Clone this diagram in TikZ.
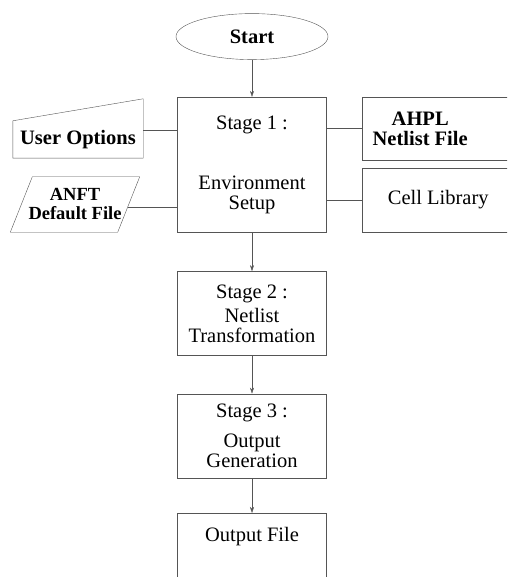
\documentclass[tikz,border=0pt]{standalone}
\usepackage{fontspec}
\setmainfont{Liberation Serif}
\usepackage{tikz}
\usetikzlibrary{positioning, arrows.meta, shapes.geometric, calc}
\definecolor{scanline}{HTML}{555555}

\begin{document}
\begin{tikzpicture}[
  x=1pt, y=-1pt,
  node distance=38pt,
  every node/.style={font=\fontsize{20.5}{20}\selectfont},
  startnode/.style={
    ellipse, draw=scanline, thin,
    minimum width=152pt, minimum height=46pt,
    font=\fontsize{20.5}{20}\selectfont\bfseries
  },
  stagebox/.style={
    rectangle, draw=scanline, thin,
    minimum width=149pt, minimum height=84pt,
    align=center
  },
  filebox/.style={
    rectangle, draw=scanline, thin, anchor=west,
    minimum width=170pt
  },
  inputbox/.style={
    rectangle, minimum width=130pt, minimum height=37pt,
    font=\fontsize{20.5}{20}\selectfont\bfseries
  },
  defaultbox/.style={
    rectangle, inner xsep=0pt,
    minimum width=129pt, minimum height=55pt,
    align=center, font=\fontsize{18.5}{19}\selectfont\bfseries
  },
  link/.style={thin, color=scanline},
  arr/.style={-{Stealth[length=6pt, width=4pt]}, thin, color=scanline},
]
\path[use as bounding box, clip] (0,0) rectangle (507,577);

% Main flow
\node[stagebox, minimum height=135pt] (stage1) at (252,164.5)
  {Stage 1 :\\[40pt]Environment\\Setup};
\node[startnode, above=37pt of stage1] (start) {Start};
\node[stagebox, below=39pt of stage1] (stage2)
  {Stage 2 :\\[4pt]Netlist\\Transformation};
\node[stagebox, below=38pt of stage2] (stage3)
  {Stage 3 :\\[10pt]Output\\Generation};
\node[stagebox, below=35pt of stage3, minimum height=80pt,
  label={[yshift=17pt]center:Output File}] (outfile) {};

% Inputs on the left
\node[inputbox] (useropt) at (78,139.5) {User Options};
\draw[link] (useropt.north west) -- (useropt.south west)
  -- (useropt.south east) -- ([yshift=22pt]useropt.north east) -- cycle;
\node[defaultbox] (anft) at (75,204.5) {ANFT\\Default File};
\draw[link] ([xshift=22pt]anft.north west) -- (anft.north east)
  -- ([xshift=-22pt]anft.south east) -- (anft.south west) -- cycle;

% Files on the right
\node[filebox, minimum height=63pt,
  label={[xshift=-27pt, align=center, font=\fontsize{20.5}{20}\selectfont\bfseries]center:AHPL\\Netlist File}]
  (ahpl) at (362,128.5) {};
\node[filebox, minimum height=64pt,
  label={[xshift=-9pt]center:Cell Library}] (cell) at (362,200) {};

% Connectors
\draw[arr] (start) -- (stage1);
\draw[arr] (stage1) -- (stage2);
\draw[arr] (stage2) -- (stage3);
\draw[arr] (stage3) -- (outfile);

\draw[link] ([yshift=9pt]useropt.east) -- ([yshift=9pt]useropt.east -| stage1.west);
\draw[link] ([xshift=-12.2pt,yshift=-3pt]anft.east) -- ([yshift=-3pt]anft.east -| stage1.west);
\draw[link] (ahpl.west -| stage1.east) -- (ahpl.west);
\draw[link] (cell.west -| stage1.east) -- (cell.west);

\end{tikzpicture}
\end{document}
